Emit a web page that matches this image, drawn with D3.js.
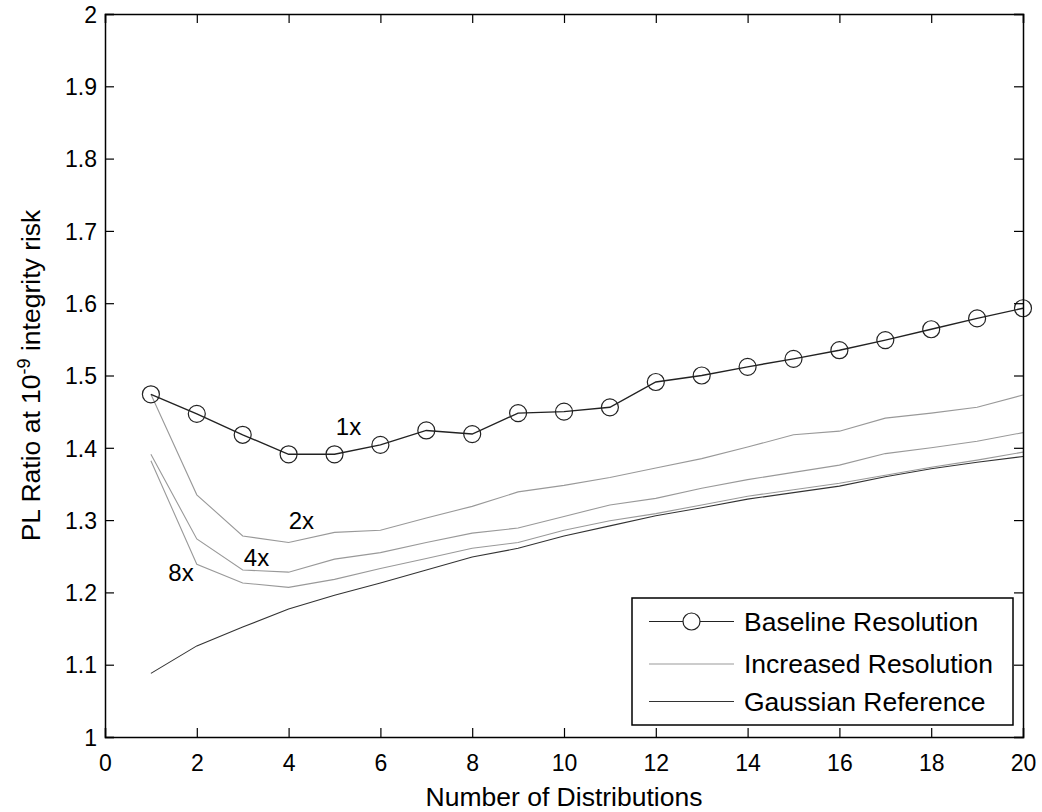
<!DOCTYPE html>
<html>
<head>
<meta charset="utf-8">
<script src="https://cdn.jsdelivr.net/npm/d3@7"></script>
<style>
  html, body { margin: 0; padding: 0; background: #fff; }
  svg text { font-family: "Liberation Sans", Arial, Helvetica, sans-serif; fill: #000; }
</style>
</head>
<body>
<svg id="chart" width="1042" height="812"></svg>
<script>
// ---- data ----
const distributions = [1,2,3,4,5,6,7,8,9,10,11,12,13,14,15,16,17,18,19,20];
const baseline  = [1.474,1.447,1.418,1.391,1.391,1.404,1.424,1.419,1.448,1.450,1.456,1.491,1.500,1.512,1.523,1.535,1.549,1.564,1.579,1.593];
const increased2x = [1.474,1.335,1.278,1.269,1.283,1.286,1.303,1.319,1.339,1.348,1.359,1.372,1.385,1.401,1.418,1.423,1.441,1.448,1.456,1.473];
const increased4x = [1.391,1.274,1.231,1.228,1.246,1.255,1.269,1.282,1.289,1.305,1.321,1.330,1.344,1.356,1.366,1.376,1.392,1.400,1.409,1.421];
const increased8x = [1.382,1.239,1.213,1.207,1.218,1.233,1.247,1.261,1.269,1.286,1.299,1.309,1.321,1.333,1.342,1.351,1.362,1.373,1.383,1.394];
const gaussian  = [1.088,1.126,1.152,1.177,1.196,1.213,1.231,1.249,1.261,1.278,1.292,1.306,1.317,1.329,1.338,1.347,1.360,1.371,1.380,1.388];
const xTicks = [0,2,4,6,8,10,12,14,16,18,20];
const yTicks = [1,1.1,1.2,1.3,1.4,1.5,1.6,1.7,1.8,1.9,2];
const legendLabels = ["Baseline Resolution","Increased Resolution","Gaussian Reference"];
const annotations = [
  {text:"1x", x:5.305, y:1.430},
  {text:"2x", x:4.28,  y:1.300},
  {text:"4x", x:3.30,  y:1.248},
  {text:"8x", x:1.656, y:1.2275}
];

// ---- layout ----
const svg = d3.select("#chart");
const L = 105, R = 1023, T = 14, B = 737;
const x = d3.scaleLinear().domain([0,20]).range([L,R]);
const y = d3.scaleLinear().domain([1,2]).range([B,T]);

svg.append("rect").attr("x",0).attr("y",0).attr("width",1042).attr("height",812).attr("fill","#fff");

const line = d3.line().x((d,i)=>x(distributions[i])).y(d=>y(d));

// gaussian
svg.append("path").datum(gaussian).attr("d",line)
  .attr("fill","none").attr("stroke","#333").attr("stroke-width",1.1);
// increased resolutions
[increased2x, increased4x, increased8x].forEach(s=>{
  svg.append("path").datum(s).attr("d",line)
    .attr("fill","none").attr("stroke","#999").attr("stroke-width",1.1);
});
// baseline
svg.append("path").datum(baseline).attr("d",line)
  .attr("fill","none").attr("stroke","#222").attr("stroke-width",1.4);
svg.selectAll("circle.bl").data(baseline).enter().append("circle")
  .attr("class","bl")
  .attr("cx",(d,i)=>x(distributions[i])).attr("cy",d=>y(d)).attr("r",8.5)
  .attr("fill","none").attr("stroke","#222").attr("stroke-width",1.2);

// annotations
svg.selectAll("text.ann").data(annotations).enter().append("text")
  .attr("class","ann")
  .attr("x",d=>x(d.x)).attr("y",d=>y(d.y))
  .attr("text-anchor","middle").attr("dominant-baseline","central")
  .style("font-size","24px").text(d=>d.text);

// axes box
const axB = svg.append("g").attr("transform",`translate(0,${B})`)
  .call(d3.axisBottom(x).tickValues(xTicks).tickSize(-9).tickFormat(d3.format("d")));
const axT = svg.append("g").attr("transform",`translate(0,${T})`)
  .call(d3.axisTop(x).tickValues(xTicks).tickSize(-9).tickFormat(""));
const axL = svg.append("g").attr("transform",`translate(${L},0)`)
  .call(d3.axisLeft(y).tickValues(yTicks).tickSize(-9).tickFormat(d3.format("")));
const axR = svg.append("g").attr("transform",`translate(${R},0)`)
  .call(d3.axisRight(y).tickValues(yTicks).tickSize(-9).tickFormat(""));
[axB,axT,axL,axR].forEach(g=>{
  g.select(".domain").attr("stroke","#000").attr("stroke-width",1.5);
  g.selectAll(".tick line").attr("stroke","#000").attr("stroke-width",1.2);
  g.selectAll(".tick text").style("font-size","23px")
    .style("font-family","'Liberation Sans', Arial, sans-serif").attr("fill","#000");
});
axB.selectAll(".tick text").attr("y",34).attr("dy",0);
axL.selectAll(".tick text").attr("x",-8).attr("y",0).attr("dy","0.36em");

// axis labels
svg.append("text").attr("x",(L+R)/2).attr("y",806)
  .attr("text-anchor","middle").style("font-size","26.5px").text("Number of Distributions");
const yl = svg.append("text").attr("transform",`translate(40,${(T+B)/2}) rotate(-90)`)
  .attr("text-anchor","middle").style("font-size","26.5px");
yl.append("tspan").text("PL Ratio at 10");
yl.append("tspan").attr("dy",-10).style("font-size","18px").text("-9");
yl.append("tspan").attr("dy",10).text(" integrity risk");

// legend
const lg = svg.append("g");
const lx0 = 632, ly0 = 598, lw = 381, lh = 127;
lg.append("rect").attr("x",lx0).attr("y",ly0).attr("width",lw).attr("height",lh)
  .attr("fill","#fff").attr("stroke","#000").attr("stroke-width",1.5);
const rows = [621.5, 664, 701.5];
const legColors = ["#222","#999","#333"];
legendLabels.forEach((lab,i)=>{
  lg.append("line").attr("x1",649).attr("x2",734).attr("y1",rows[i]).attr("y2",rows[i])
    .attr("stroke",legColors[i]).attr("stroke-width",1.1);
  if(i===0){
    lg.append("circle").attr("cx",691.5).attr("cy",rows[i]).attr("r",8.5)
      .attr("fill","#fff").attr("stroke","#222").attr("stroke-width",1.2);
  }
  lg.append("text").attr("x",744).attr("y",rows[i]).attr("dominant-baseline","central")
    .style("font-size","26.5px").text(lab);
});
</script>
</body>
</html>
